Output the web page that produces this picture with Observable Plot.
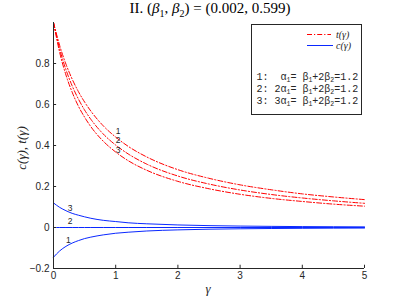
<!DOCTYPE html>
<html><head><meta charset="utf-8">
<script src="https://cdn.jsdelivr.net/npm/d3@7"></script>
<script src="https://cdn.jsdelivr.net/npm/@observablehq/plot@0.6"></script>
<style>
body{margin:0;background:#fff;}
#wrap{position:relative;width:402px;height:302px;overflow:hidden;}
#title{position:absolute;top:0px;left:9px;width:402px;text-align:center;font:15px "Liberation Serif",serif;color:#000;}
#chart,#over{position:absolute;top:0;left:0;}
</style></head><body>
<div id="wrap">
<div id="chart"></div>
<div id="title">II. (<i>β</i><sub style="font-size:10px">1</sub>, <i>β</i><sub style="font-size:10px">2</sub>) = (0.002, 0.599)</div>
<svg id="over" width="402" height="302"></svg>
</div>
<script>
const gamma = [0,0.1,0.2,0.3,0.4,0.5,0.6,0.8,1.0,1.2,1.5,2,2.5,3,3.5,4,4.5,5];
const t1 = [1.000,0.887,0.797,0.724,0.663,0.612,0.568,0.496,0.441,0.396,0.344,0.282,0.240,0.208,0.184,0.164,0.149,0.136];
const t2 = [1.000,0.870,0.770,0.691,0.627,0.573,0.528,0.456,0.402,0.359,0.309,0.251,0.212,0.183,0.161,0.144,0.130,0.118];
const t3 = [1.000,0.853,0.744,0.660,0.592,0.538,0.492,0.421,0.368,0.326,0.279,0.225,0.189,0.162,0.142,0.127,0.114,0.104];
const c1 = [-0.145,-0.114,-0.092,-0.076,-0.064,-0.054,-0.047,-0.036,-0.028,-0.023,-0.017,-0.0116,-0.0083,-0.0063,-0.0049,-0.0039,-0.0032,-0.0027];
const c2 = [0,0,0,0,0,0,0,0,0,0,0,0,0,0,0,0,0,0];
const c3 = [0.120,0.098,0.082,0.069,0.060,0.052,0.045,0.035,0.029,0.023,0.018,0.0125,0.0091,0.0070,0.0055,0.0044,0.0037,0.0031];
const xTicks = [0,1,2,3,4,5];
const yTicks = [-0.2,0,0.2,0.4,0.6,0.8];
const tLabels = ["1","2","3"]; const tLabelX = [1.0,1.0,1.0]; const tLabelY = [0.47,0.423,0.376];
const cLabels = ["3","2","1"]; const cLabelX = [0.23,0.23,0.2]; const cLabelY = [0.094,0.03,-0.064];

const tRows = [], cRows = [];
[t1,t2,t3].forEach((s,k)=>gamma.forEach((g,i)=>tRows.push({g, v:s[i], s:k})));
[c1,c2,c3].forEach((s,k)=>gamma.forEach((g,i)=>cRows.push({g, v:s[i], s:k})));
const labRows = tLabels.map((t,i)=>({t, x:tLabelX[i], y:tLabelY[i]})).concat(cLabels.map((t,i)=>({t, x:cLabelX[i], y:cLabelY[i]})));
const axisCol = "#262626";
const fmt = d => d===0 ? "0" : (d<0 ? "\u2212" : "") + Math.abs(d).toString();

const chart = Plot.plot({
  width: 402, height: 302,
  marginTop: 22, marginBottom: 34, marginLeft: 53, marginRight: 38,
  x: {domain: [0,5]},
  y: {domain: [-0.2,1.0]},
  style: {fontFamily: "Liberation Sans, Arial, sans-serif", fontSize: "10px", color: axisCol, background: "#fff"},
  marks: [
    Plot.line(cRows, {x:"g", y:"v", z:"s", stroke:"#0a28ff", strokeWidth:1, curve:"monotone-x"}),
    Plot.line(tRows, {x:"g", y:"v", z:"s", stroke:"#ff0000", strokeWidth:1, strokeDasharray:"5,2,1.2,2", curve:"monotone-x"}),
    Plot.ruleY([-0.2], {x1:0, x2:5, stroke:axisCol, strokeWidth:1}),
    Plot.ruleX([0], {y1:-0.2, y2:1.0, stroke:axisCol, strokeWidth:1}),
    Plot.ruleX(xTicks, {y1:-0.2, y2:-0.2+0.016, stroke:axisCol}),
    Plot.ruleY(yTicks, {x1:0, x2:0.05, stroke:axisCol}),
    Plot.axisX(xTicks, {tickSize:0, tickPadding:3, label:null, tickFormat: fmt, fill:axisCol}),
    Plot.axisY(yTicks, {tickSize:0, tickPadding:4, label:null, tickFormat: fmt, fill:axisCol}),
    Plot.text(labRows, {x:"x", y:"y", text:"t", textAnchor:"start", fontSize:8.5, lineHeight:0.9, fill:"#262626"})
  ]
});
document.getElementById("chart").appendChild(chart);

// overlay: axis titles and legend
const o = d3.select("#over");
o.append("text").attr("x",208).attr("y",293).attr("text-anchor","middle")
  .style("font","italic 13px 'Liberation Serif', serif").attr("fill","#262626").text("γ");
o.append("text").attr("transform","translate(26,148) rotate(-90)").attr("text-anchor","middle")
  .style("font","italic 13px 'Liberation Serif', serif").attr("fill","#262626").text("c(γ), t(γ)");

const lg = o.append("g");
lg.append("rect").attr("x",251.5).attr("y",24.5).attr("width",110).attr("height",90)
  .attr("fill","#fff").attr("stroke","#262626").attr("stroke-width",1);
lg.append("line").attr("x1",307).attr("x2",331).attr("y1",34.5).attr("y2",34.5)
  .attr("stroke","#ff0000").attr("stroke-dasharray","5,2,1.2,2");
lg.append("text").attr("x",336).attr("y",38).style("font","italic 10px 'Liberation Serif', serif").attr("fill","#262626").text("t(γ)");
lg.append("line").attr("x1",307).attr("x2",333).attr("y1",45.5).attr("y2",45.5).attr("stroke","#0a28ff");
lg.append("text").attr("x",336).attr("y",49).style("font","italic 10px 'Liberation Serif', serif").attr("fill","#262626").text("c(γ)");

const legLines = [["1:  ",""],["2: ","2"],["3: ","3"]];
legLines.forEach((p,i)=>{
  const t = lg.append("text").attr("x",256.5).attr("y",80 + i*12)
    .style("font","10px 'Liberation Mono', monospace").attr("fill","#262626").attr("xml:space","preserve").style("white-space","pre");
  t.append("tspan").text(p[0] + p[1] + "α");
  t.append("tspan").attr("dy",2).style("font-size","6.5px").text("1");
  t.append("tspan").attr("dy",-2).text("= β");
  t.append("tspan").attr("dy",2).style("font-size","6.5px").text("1");
  t.append("tspan").attr("dy",-2).text("+2β");
  t.append("tspan").attr("dy",2).style("font-size","6.5px").text("2");
  t.append("tspan").attr("dy",-2).text("=1.2");
});
</script>
</body></html>
